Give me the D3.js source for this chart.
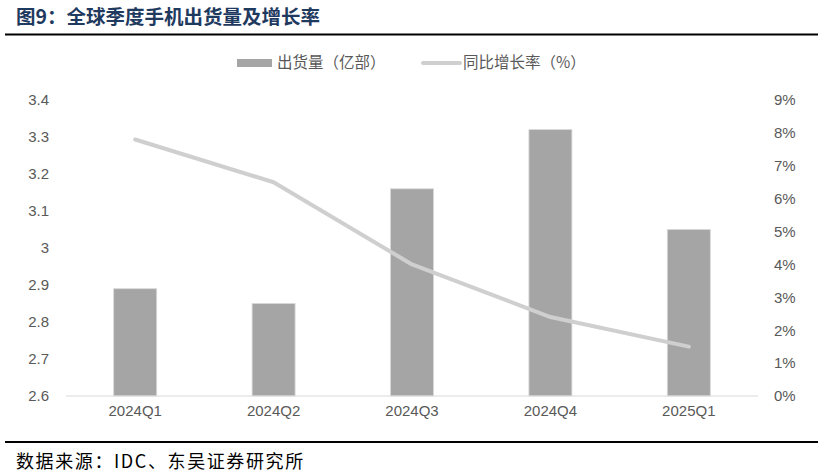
<!DOCTYPE html>
<html>
<head>
<meta charset="utf-8">
<script src="https://cdn.jsdelivr.net/npm/d3@7"></script>
<style>
  body { margin: 0; background: #fff; }
  svg { display: block; }
</style>
</head>
<body>
<script>
// data
const quarters = ['2024Q1', '2024Q2', '2024Q3', '2024Q4', '2025Q1'];
const shipments = [2.89, 2.85, 3.16, 3.32, 3.05];   // 出货量（亿部）
const growth = [7.8, 6.5, 4.0, 2.4, 1.5];           // 同比增长率（%）
const leftTicks = [2.6, 2.7, 2.8, 2.9, 3, 3.1, 3.2, 3.3, 3.4];
const rightTicks = [0, 1, 2, 3, 4, 5, 6, 7, 8, 9];

const width = 824;
const height = 474;
const margin = ({top: 100, right: 66, bottom: 78, left: 66});
const cjk = '"Noto Sans CJK SC", "Noto Sans", sans-serif';
const tickFont = '"Liberation Sans", Arial, sans-serif';

const svg = d3.select('body')
  .append('svg')
  .attr('width', width)
  .attr('height', height);

// scales
const xScale = d3.scaleBand()
  .domain(quarters)
  .range([margin.left, width - margin.right]);

const yLeft = d3.scaleLinear()
  .domain([2.6, 3.4])
  .range([height - margin.bottom, margin.top]);

const yRight = d3.scaleLinear()
  .domain([0, 9])
  .range([height - margin.bottom, margin.top]);

// title + rules
svg.append('text')
  .attr('x', 16)
  .attr('y', 24)
  .attr('font-family', cjk)
  .attr('font-weight', 'bold')
  .attr('font-size', 19.5)
  .attr('fill', '#1f3a5f')
  .text('图9：全球季度手机出货量及增长率');

svg.append('line')
  .attr('x1', 5).attr('x2', 818)
  .attr('y1', 34.5).attr('y2', 34.5)
  .attr('stroke', '#000').attr('stroke-width', 2);

svg.append('line')
  .attr('x1', 5).attr('x2', 818)
  .attr('y1', 442).attr('y2', 442)
  .attr('stroke', '#000').attr('stroke-width', 2);

svg.append('text')
  .attr('x', 16)
  .attr('y', 468)
  .attr('font-family', cjk)
  .attr('font-size', 18)
  .attr('letter-spacing', 1.6)
  .attr('fill', '#000')
  .text('数据来源：IDC、东吴证券研究所');

// bars
const barW = 43;
svg.append('g')
  .selectAll('rect')
  .data(shipments)
  .join('rect')
  .attr('x', (d, i) => xScale(quarters[i]) + xScale.bandwidth() / 2 - barW / 2)
  .attr('y', d => yLeft(d))
  .attr('width', barW)
  .attr('height', d => yLeft(2.6) - yLeft(d))
  .attr('fill', '#a5a5a5')
  .attr('stroke', '#d9d9d9')
  .attr('stroke-width', 0.8);

// baseline
svg.append('line')
  .attr('x1', margin.left).attr('x2', width - margin.right)
  .attr('y1', yLeft(2.6)).attr('y2', yLeft(2.6))
  .attr('stroke', '#d9d9d9').attr('stroke-width', 1.2);

// growth line
const line = d3.line()
  .x((d, i) => xScale(quarters[i]) + xScale.bandwidth() / 2)
  .y(d => yRight(d));

svg.append('path')
  .datum(growth)
  .attr('d', line)
  .attr('fill', 'none')
  .attr('stroke', '#cfcfcf')
  .attr('stroke-width', 4)
  .attr('stroke-linecap', 'round')
  .attr('stroke-linejoin', 'round');

// axes
const leftAxis = d3.axisLeft(yLeft)
  .tickValues(leftTicks)
  .tickSize(0)
  .tickPadding(0)
  .tickFormat(d => d3.format('')(d));

svg.append('g')
  .attr('transform', 'translate(49,0)')
  .call(leftAxis)
  .call(g => g.select('.domain').remove())
  .selectAll('text')
  .attr('font-family', tickFont)
  .attr('font-size', 15)
  .attr('fill', '#595959');

const rightAxis = d3.axisRight(yRight)
  .tickValues(rightTicks)
  .tickSize(0)
  .tickPadding(0)
  .tickFormat(d => d + '%');

svg.append('g')
  .attr('transform', 'translate(774,0)')
  .call(rightAxis)
  .call(g => g.select('.domain').remove())
  .selectAll('text')
  .attr('font-family', tickFont)
  .attr('font-size', 15)
  .attr('fill', '#595959');

const xAxis = d3.axisBottom(xScale).tickSize(0).tickPadding(9);

svg.append('g')
  .attr('transform', `translate(0,${yLeft(2.6)})`)
  .call(xAxis)
  .call(g => g.select('.domain').remove())
  .selectAll('text')
  .attr('font-family', tickFont)
  .attr('font-size', 15)
  .attr('fill', '#595959');

// legend
const legend = svg.append('g').attr('font-family', cjk).attr('font-size', 15.5).attr('fill', '#595959');

legend.append('rect')
  .attr('x', 237).attr('y', 59).attr('width', 35).attr('height', 8)
  .attr('fill', '#a5a5a5');
legend.append('text')
  .attr('x', 277).attr('y', 68)
  .text('出货量（亿部）');

legend.append('line')
  .attr('x1', 423).attr('x2', 460)
  .attr('y1', 63).attr('y2', 63)
  .attr('stroke', '#cfcfcf').attr('stroke-width', 4)
  .attr('stroke-linecap', 'round');
legend.append('text')
  .attr('x', 463).attr('y', 68)
  .text('同比增长率（%）');
</script>
</body>
</html>
